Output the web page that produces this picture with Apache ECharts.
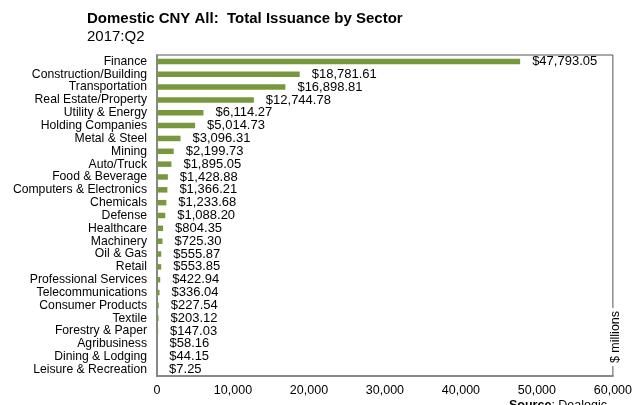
<!DOCTYPE html>
<html>
<head>
<meta charset="utf-8">
<script src="https://cdn.jsdelivr.net/npm/echarts@6/dist/echarts.min.js"></script>
<style>
  html, body { margin: 0; padding: 0; background: #fff; }
  #chart { width: 635px; height: 405px; }
</style>
</head>
<body>
<div id="chart"></div>
<script>
// Sectors, top to bottom as listed
const sectors = [
  'Finance', 'Construction/Building', 'Transportation', 'Real Estate/Property',
  'Utility & Energy', 'Holding Companies', 'Metal & Steel', 'Mining', 'Auto/Truck',
  'Food & Beverage', 'Computers & Electronics', 'Chemicals', 'Defense', 'Healthcare',
  'Machinery', 'Oil & Gas', 'Retail', 'Professional Services', 'Telecommunications',
  'Consumer Products', 'Textile', 'Forestry & Paper', 'Agribusiness', 'Dining & Lodging',
  'Leisure & Recreation'
];
// Total issuance, $ millions
const issuance = [
  47793.05, 18781.61, 16898.81, 12744.78, 6114.27, 5014.73, 3096.31, 2199.73, 1895.05,
  1428.88, 1366.21, 1233.68, 1088.20, 804.35, 725.30, 555.87, 553.85, 422.94, 336.04,
  227.54, 203.12, 147.03, 58.16, 44.15, 7.25
];
const xTicks = { min: 0, max: 60000, interval: 10000 };

const FONT = '"Liberation Sans", Arial, sans-serif';
const fmtMoney = v => '$' + v.toLocaleString('en-US', { minimumFractionDigits: 2, maximumFractionDigits: 2 });

const chart = echarts.init(document.getElementById('chart'), null, { renderer: 'canvas' });
chart.setOption({
  animation: false,
  backgroundColor: '#fff',
  textStyle: { fontFamily: FONT },
  title: [{
    text: 'Domestic CNY All:  Total Issuance by Sector',
    subtext: '2017:Q2',
    left: 82,
    top: 6,
    itemGap: 3,
    textStyle: { fontFamily: FONT, fontSize: 15, fontWeight: 'bold', color: '#000' },
    subtextStyle: { fontFamily: FONT, fontSize: 15, color: '#000' }
  }, {
    text: '{b|Source}: Dealogic',
    left: 504,
    top: 394,
    textStyle: {
      fontFamily: FONT, fontSize: 12.5, fontWeight: 'normal', color: '#000',
      rich: { b: { fontFamily: FONT, fontSize: 12.5, fontWeight: 'bold', color: '#000' } }
    }
  }],
  grid: {
    left: 157, right: 19, top: 55, bottom: 29,
    show: true, borderColor: '#555', borderWidth: 1, backgroundColor: 'transparent'
  },
  xAxis: {
    type: 'value',
    min: xTicks.min, max: xTicks.max, interval: xTicks.interval,
    axisLine: { show: true, lineStyle: { color: '#888', width: 2 } },
    axisTick: { show: false },
    splitLine: { show: false },
    axisLabel: {
      margin: 8, fontSize: 12.5, color: '#000', fontFamily: FONT,
      formatter: v => v.toLocaleString('en-US')
    }
  },
  yAxis: {
    type: 'category',
    inverse: true,
    data: sectors,
    axisLine: { show: true, lineStyle: { color: '#888', width: 2 } },
    axisTick: { show: false },
    axisLabel: { interval: 0, margin: 10, fontSize: 12.2, color: '#000', fontFamily: FONT }
  },
  series: [{
    type: 'bar',
    data: issuance,
    barWidth: 5.5,
    itemStyle: { color: '#77983c' },
    label: {
      show: true, position: 'right', distance: 12,
      fontSize: 13, color: '#000', fontFamily: FONT,
      formatter: p => fmtMoney(p.value)
    }
  }],
  graphic: [{
    type: 'text',
    x: 616,
    y: 337,
    rotation: Math.PI / 2,
    style: {
      text: '$ millions',
      font: '12.5px ' + FONT,
      fill: '#000',
      align: 'center',
      verticalAlign: 'middle',
      backgroundColor: '#fff',
      padding: [0, 3]
    },
    z: 100
  }]
});
</script>
</body>
</html>
